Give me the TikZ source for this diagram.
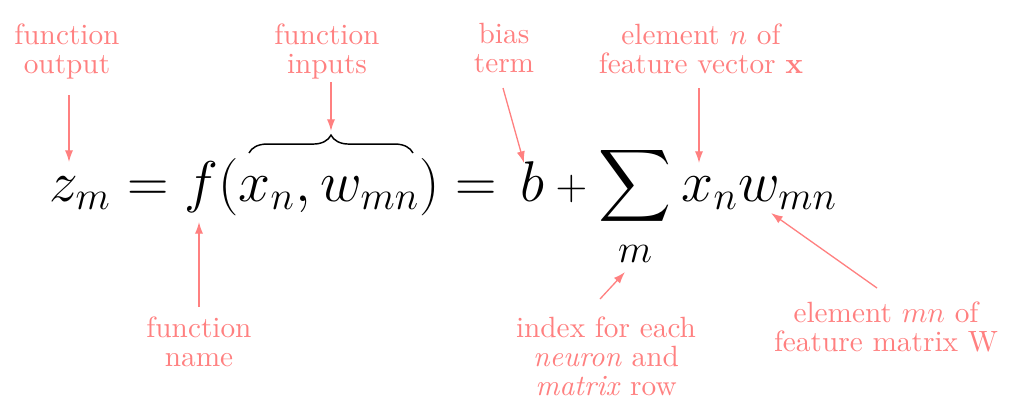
\documentclass[tikz,border=0pt]{standalone}
\usepackage{amsmath}
\usetikzlibrary{arrows.meta,decorations.pathreplacing}
\definecolor{notecol}{RGB}{255,128,128}
\begin{document}
\begin{tikzpicture}[x=0.3413pt,y=-0.3413pt,
  note/.style={text=notecol, align=center, font=\fontsize{10}{9.9}\selectfont, inner sep=0pt, anchor=north},
  arr/.style={draw=notecol, line width=0.45pt, -{Latex[length=4pt,width=2.8pt]}},
  eq/.style={inner sep=0pt, anchor=base west, font=\huge, scale=0.945},
  brc/.style={decorate, decoration={brace, amplitude=6.1pt}, line width=0.5pt}]
\useasboundingbox (0,0) rectangle (1010,419);
% equation
\node[eq] (lhs) at (49,201) {$z_m = f(x_n, w_{mn}) =$};
\node[eq] (b) at (520,201) {$b$};
\node[inner sep=0pt, font=\Large] (plus) at (571.5,189) {$+$};
\node[inner sep=0pt, font=\LARGE] (sig) at (635.5,186) {$\displaystyle\sum$};
\node[inner sep=0pt, anchor=base, font=\Large, scale=0.94] (sigm) at (635,262) {$m$};
\node[eq] (xw) at (681,201) {$x_n w_{mn}$};
\draw[brc] (249,153) -- (413,153);
% annotations
\node[note] (tout) at (67,23) {function\\output};
\node[note] (tin) at (327,23) {function\\inputs};
\node[note] (tbias) at (504,23) {bias\\term};
\node[note] (tvec) at (701,23) {element $n$ of\\feature vector $\mathbf{x}$};
\node[note] (tname) at (199,316) {function\\name};
\node[note] (tidx) at (606,316) {index for each\\\textit{neuron} and\\\textit{matrix} row};
\node[note] (tmn) at (886,301) {element $mn$ of\\feature matrix W};
% arrow ends
\coordinate (a1s) at (69,95);   \coordinate (a1e) at (69,162);
\coordinate (a2s) at (331,82);  \coordinate (a2e) at (331,131);
\coordinate (a3s) at (503,88);  \coordinate (a3e) at (524,163);
\coordinate (a4s) at (699,88);  \coordinate (a4e) at (699,163);
\coordinate (a5s) at (199,307); \coordinate (a5e) at (199,222);
\coordinate (a6s) at (600,299); \coordinate (a6e) at (625,272);
\coordinate (a7s) at (877,288); \coordinate (a7e) at (771,213);
\draw[arr] (a1s) -- (a1e);
\draw[arr] (a2s) -- (a2e);
\draw[arr] (a3s) -- (a3e);
\draw[arr] (a4s) -- (a4e);
\draw[arr] (a5s) -- (a5e);
\draw[arr] (a6s) -- (a6e);
\draw[arr] (a7s) -- (a7e);
\end{tikzpicture}
\end{document}
